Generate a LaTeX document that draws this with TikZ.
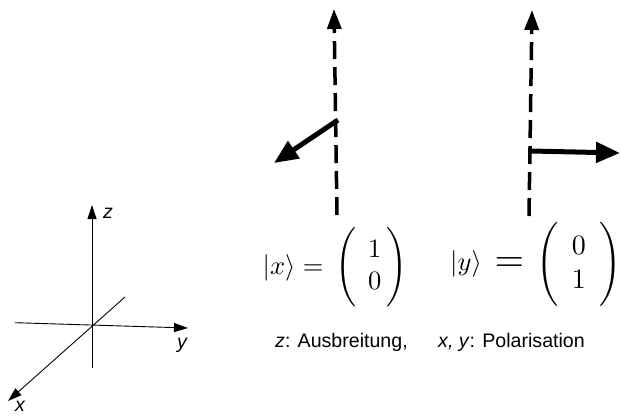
\documentclass[tikz,border=0pt]{standalone}
\usepackage[no-math]{fontspec}
\usepackage{amsmath}
\usepackage{graphicx}
\newfontfamily\lsans{Liberation Sans}
\usetikzlibrary{arrows.meta}
\begin{document}
\begin{tikzpicture}[x=1pt,y=-1pt]
\tikzset{
  axis/.style={line width=0.9pt, -{Triangle[length=14pt,width=9pt]}},
  beam/.style={line width=3.5pt, dash pattern=on 18pt off 8pt, -{Triangle[length=20pt,width=14pt]}},
  pol/.style={line width=5pt, -{Triangle[length=24pt,width=20pt]}},
  lbl/.style={font=\lsans\fontsize{19.6}{23}\selectfont, inner sep=0pt},
  eqn/.style={inner sep=0pt, font=\fontsize{10}{12}\selectfont},
}
\useasboundingbox (0,0) rectangle (621,415);
% axes
\coordinate (ztop) at (92,205);
\coordinate (zbot) at (92,368);
\coordinate (yl) at (15,322.7);
\coordinate (yr) at (188,328);
\coordinate (xb) at (125,297);
\coordinate (xf) at (8,401);
\draw[axis] (zbot) -- (ztop);
\draw[axis] (yl) -- (yr);
\draw[axis] (xb) -- (xf);
\node[lbl, anchor=base west] (zl) at (103,218) {\textit{z}};
\node[lbl, anchor=base west] (yla) at (177,348) {\textit{y}};
\node[lbl, anchor=base west] (xla) at (15,411) {\textit{x}};
% beams
\coordinate (b1s) at (337,215);
\coordinate (b1e) at (334,9);
\coordinate (p1s) at (338,120);
\coordinate (p1e) at (274,163);
\draw[beam] (b1s) -- (b1e);
\draw[pol] (p1s) -- (p1e);
\coordinate (b2s) at (529,216);
\coordinate (b2e) at (532,10);
\coordinate (p2s) at (531,151);
\coordinate (p2e) at (620,153);
\draw[beam] (b2s) -- (b2e);
\draw[pol] (p2s) -- (p2e);
% equation 1
\node[eqn, anchor=west] (eq1) at (262.5,267.5) {\scalebox{2.65}{$|x\rangle = \,\Bigg(\begin{array}{@{\hspace{4.5pt}}c@{\hspace{2pt}}}1\\0\end{array}\Bigg)$}};
% equation 2 (ket, larger equals sign, larger matrix)
\node[eqn, anchor=west] (ket2) at (450,263.5) {\scalebox{2.65}{$|y\rangle$}};
\node[eqn] (eqs2) at (509.5,265) {\scalebox{3.8}{$=$}};
\node[eqn, anchor=west] (mat2) at (536,264.5) {\scalebox{2.8}{$\setlength{\arraycolsep}{4.8pt}\Bigg(\begin{array}{c}0\\1\end{array}\Bigg)$}};
% captions
\node[lbl, anchor=base west] (cap1) at (275,347) {\textit{z}: Ausbreitung,};
\node[lbl, anchor=base west] (cap2) at (438,347) {\textit{x, y}: Polarisation};
\end{tikzpicture}
\end{document}
